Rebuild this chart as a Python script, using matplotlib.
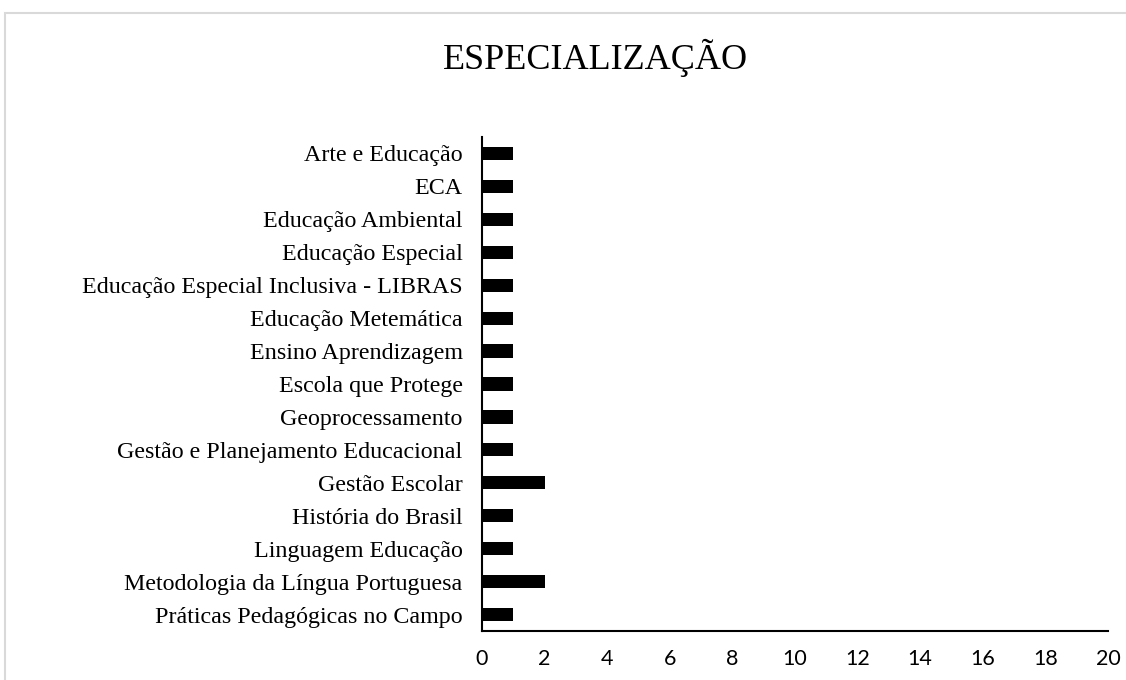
import matplotlib
matplotlib.use("Agg")
import matplotlib.pyplot as plt
from matplotlib.patches import Rectangle

categories = [
    "Arte e Educação",
    "ECA",
    "Educação Ambiental",
    "Educação Especial",
    "Educação Especial Inclusiva - LIBRAS",
    "Educação Metemática",
    "Ensino Aprendizagem",
    "Escola que Protege",
    "Geoprocessamento",
    "Gestão e Planejamento Educacional",
    "Gestão Escolar",
    "História do Brasil",
    "Linguagem Educação",
    "Metodologia da Língua Portuguesa",
    "Práticas Pedagógicas no Campo",
]
values = [1, 1, 1, 1, 1, 1, 1, 1, 1, 1, 2, 1, 1, 2, 1]
xticks = list(range(0, 21, 2))
title = "ESPECIALIZAÇÃO"

fig = plt.figure(figsize=(11.26, 6.8), dpi=100)
fig.patches.append(Rectangle((5/1126, -0.01), 1.2, 1 - 13/680 + 0.01,
                             transform=fig.transFigure, fill=False,
                             edgecolor="#d9d9d9", linewidth=1.5))
ax = fig.add_axes([482/1126, 1 - 631/680, (1108 - 482)/1126, (631 - 137)/680])

pos = list(range(len(categories)))
ax.barh(pos, values, height=0.4, color="black")
ax.set_ylim(len(categories) - 0.5, -0.5)
ax.set_xlim(0, 20)
ax.set_yticks(pos)
ax.set_yticklabels(categories, fontfamily="Liberation Serif", fontsize=17.3)
ax.set_xticks(xticks)
ax.set_xticklabels([str(t) for t in xticks], fontfamily="Lato", fontsize=15.5)
ax.tick_params(axis="y", length=0, pad=14)
ax.tick_params(axis="x", length=0, pad=13)
for s in ["top", "right"]:
    ax.spines[s].set_visible(False)
for s in ["left", "bottom"]:
    ax.spines[s].set_linewidth(1.5)
    ax.spines[s].set_color("black")

fig.text(595/1126, 1 - 58/680, title, fontfamily="Liberation Serif", fontsize=26,
         ha="center", va="center")

fig.savefig("out.png", dpi=100)
